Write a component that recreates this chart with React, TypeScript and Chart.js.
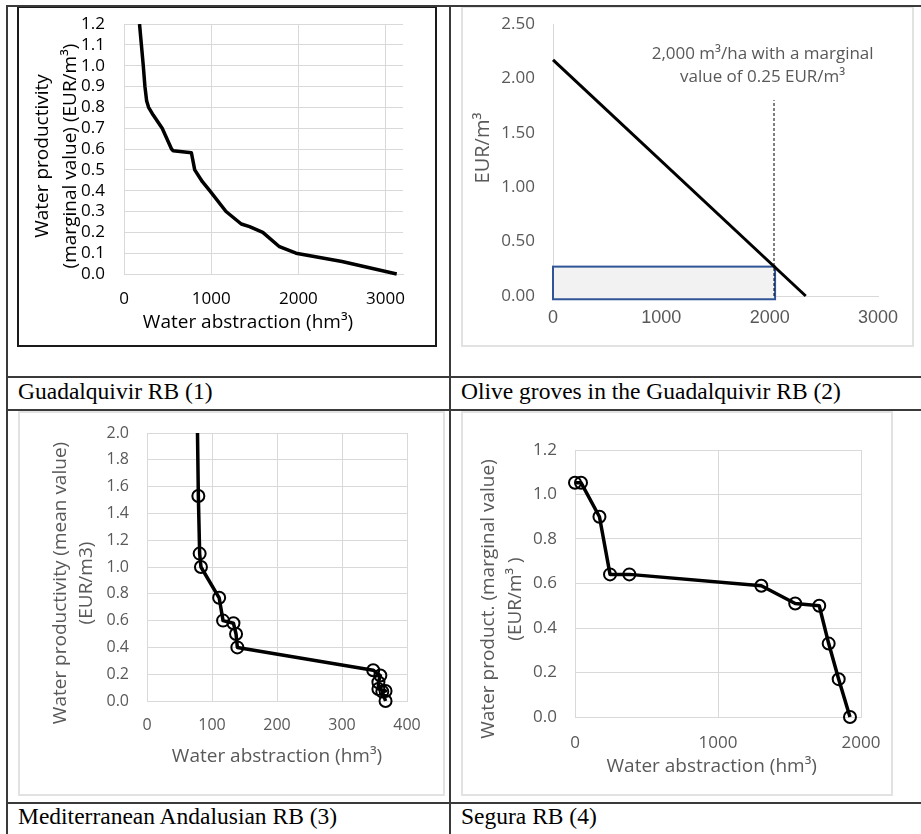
import React, { useEffect, useRef } from "react";
import { Chart, registerables } from "chart.js";
Chart.register(...registerables);

const FONT = '"Open Sans", "Noto Sans", sans-serif';
const ARIAL = '"Liberation Sans", Arial, sans-serif';
const SERIF = '"Liberation Serif", "Times New Roman", serif';
const GRAY = "#595959";
const GRID = "#d9d9d9";

// ---------- Panel 1: Guadalquivir RB ----------
const c1X = [178, 221, 240, 260, 282, 335, 438, 545, 564, 773, 811, 899, 983, 1170, 1345, 1440, 1592, 1783, 1973, 2500, 3128];
const c1Y = [1.2, 1.0, 0.9, 0.83, 0.8, 0.763, 0.7, 0.6, 0.592, 0.582, 0.5, 0.443, 0.4, 0.3, 0.24, 0.227, 0.2, 0.131, 0.1, 0.06, 0];
const c1XTicks = [0, 1000, 2000, 3000];
const c1YTicks = [0, 0.1, 0.2, 0.3, 0.4, 0.5, 0.6, 0.7, 0.8, 0.9, 1.0, 1.1, 1.2];
const c1YTitle = ["Water productivity", "(marginal value) (EUR/m³)"];
const c1XTitle = ["Water abstraction (hm³)"];

// ---------- Panel 2: Olive groves ----------
const c2X = [0, 2333];
const c2Y = [2.17, 0];
const c2XTicks = [0, 1000, 2000, 3000];
const c2YTicks = [0, 0.5, 1.0, 1.5, 2.0, 2.5];
const c2RectX = [0, 2050];
const c2RectY = [-0.03, 0.27];
const c2DashX = [2040, 2040];
const c2DashY = [0, 1.8];
const c2NoteLines = ["2,000 m³/ha with a marginal", "value of 0.25 EUR/m³"];
const c2NoteX = [1935, 1935];
const c2NoteY = [2.225, 2.015];
const c2YTitle = ["EUR/m³"];

// ---------- Panel 3: Mediterranean Andalusian RB ----------
const c3X = [76, 79, 81, 83, 111, 117, 133, 137, 139, 348, 359, 356, 356, 367, 362, 367];
const c3Y = [2.6, 1.53, 1.1, 1.0, 0.77, 0.6, 0.58, 0.5, 0.4, 0.23, 0.19, 0.14, 0.09, 0.075, 0.07, 0.0];
const c3XTicks = [0, 100, 200, 300, 400];
const c3YTicks = [0, 0.2, 0.4, 0.6, 0.8, 1.0, 1.2, 1.4, 1.6, 1.8, 2.0];
const c3YTitle = ["Water productivity (mean value)", "(EUR/m3)"];
const c3XTitle = ["Water abstraction (hm³)"];

// ---------- Panel 4: Segura RB ----------
const c4X = [0, 42, 171, 245, 380, 1303, 1540, 1708, 1774, 1844, 1923];
const c4Y = [1.053, 1.053, 0.9, 0.641, 0.641, 0.59, 0.51, 0.5, 0.33, 0.17, 0.0];
const c4XTicks = [0, 1000, 2000];
const c4YTicks = [0, 0.2, 0.4, 0.6, 0.8, 1.0, 1.2];
const c4YTitle = ["Water product. (marginal value)", "(EUR/m³ )"];
const c4XTitle = ["Water abstraction (hm³)"];

const captions = [
  "Guadalquivir RB (1)",
  "Olive groves in the Guadalquivir RB (2)",
  "Mediterranean Andalusian RB (3)",
  "Segura RB (4)",
];

const pts = (xs: number[], ys: number[]) => xs.map((x, i) => ({ x, y: ys[i] }));

type TitleSpec = { lines: string[]; x: number; y: number; lh: number; size: number; color: string; rotate: boolean };

function titlesPlugin(specs: TitleSpec[]) {
  return {
    id: "axisTitles",
    afterDraw(chart: any) {
      const ctx = chart.ctx;
      specs.forEach((s) => {
        ctx.save();
        ctx.font = `${s.size}px ${FONT}`;
        ctx.fillStyle = s.color;
        ctx.textAlign = "center";
        ctx.textBaseline = "middle";
        ctx.translate(s.x, s.y);
        if (s.rotate) ctx.rotate(-Math.PI / 2);
        s.lines.forEach((line, i) => ctx.fillText(line, 0, i * s.lh));
        ctx.restore();
      });
    },
  };
}

type AxisOpts = {
  min: number; max: number; ticks: number[]; dec: number; size: number; color: string;
  pad: number; fit: number; horizontal: boolean; grid: string; family?: string;
};

function axis(o: AxisOpts) {
  return {
    type: "linear",
    min: o.min,
    max: o.max,
    afterBuildTicks: (s: any) => {
      s.ticks = o.ticks.map((v) => ({ value: v }));
    },
    afterFit: (s: any) => {
      if (o.horizontal) s.height = o.fit;
      else s.width = o.fit;
      s.paddingTop = 0;
      s.paddingBottom = 0;
      s.paddingLeft = 0;
      s.paddingRight = 0;
    },
    ticks: {
      font: { family: o.family || FONT, size: o.size },
      color: o.color,
      padding: o.pad,
      autoSkip: false,
      maxRotation: 0,
      callback: (v: any) => Number(v).toFixed(o.dec),
    },
    grid: { color: o.grid, lineWidth: 1, drawTicks: false },
    border: { display: true, color: GRID, width: 1 },
  };
}

function common(padTop: number, padRight: number, x: any, y: any) {
  return {
    animation: false,
    responsive: false,
    events: [],
    layout: { padding: { top: padTop, right: padRight, left: 0, bottom: 0 } },
    plugins: { legend: { display: false }, tooltip: { enabled: false } },
    scales: { x, y },
  };
}

const CLIP = { left: 10, top: 0, right: 10, bottom: 10 };

function cfg1(): any {
  return {
    type: "scatter",
    data: {
      datasets: [
        {
          data: pts(c1X, c1Y), showLine: true, borderColor: "#000", borderWidth: 3.5,
          pointRadius: 0, borderJoinStyle: "round", clip: CLIP,
        },
      ],
    },
    options: common(
      16, 32,
      axis({ min: 0, max: 3200, ticks: c1XTicks, dec: 0, size: 17, color: "#000", pad: 15, fit: 71, horizontal: true, grid: GRID }),
      axis({ min: 0, max: 1.2, ticks: c1YTicks, dec: 1, size: 17, color: "#000", pad: 19, fit: 105, horizontal: false, grid: GRID })
    ),
    plugins: [
      titlesPlugin([
        { lines: c1YTitle, x: 24, y: 148, lh: 27.5, size: 19, color: "#000", rotate: true },
        { lines: c1XTitle, x: 229, y: 315, lh: 23, size: 19, color: "#000", rotate: false },
      ]),
    ],
  };
}

function cfg2(): any {
  const rectPlugin = {
    id: "rectNote",
    beforeDatasetsDraw(chart: any) {
      const { ctx, scales } = chart;
      const x0 = scales.x.getPixelForValue(c2RectX[0]);
      const x1 = scales.x.getPixelForValue(c2RectX[1]);
      const yb = scales.y.getPixelForValue(c2RectY[0]);
      const yt = scales.y.getPixelForValue(c2RectY[1]);
      ctx.save();
      ctx.fillStyle = "#f2f2f2";
      ctx.fillRect(x0, yt, x1 - x0, yb - yt);
      ctx.strokeStyle = "#2f5597";
      ctx.lineWidth = 2;
      ctx.strokeRect(x0, yt, x1 - x0, yb - yt);
      ctx.restore();
    },
    afterDatasetsDraw(chart: any) {
      const { ctx, scales } = chart;
      ctx.save();
      ctx.font = `17px ${FONT}`;
      ctx.fillStyle = GRAY;
      ctx.textAlign = "center";
      ctx.textBaseline = "middle";
      c2NoteLines.forEach((t, i) => {
        ctx.fillText(t, scales.x.getPixelForValue(c2NoteX[i]), scales.y.getPixelForValue(c2NoteY[i]));
      });
      ctx.restore();
    },
  };
  const yAx: any = axis({ min: 0, max: 2.5, ticks: c2YTicks, dec: 2, size: 17, color: GRAY, pad: 18, fit: 90, horizontal: false, grid: "rgba(0,0,0,0)" });
  const xAx: any = axis({ min: 0, max: 3000, ticks: c2XTicks, dec: 0, size: 18, color: GRAY, pad: 11, fit: 49, horizontal: true, grid: "rgba(0,0,0,0)", family: ARIAL });
  return {
    type: "scatter",
    data: {
      datasets: [
        {
          data: pts(c2DashX, c2DashY), showLine: true, borderColor: "#000", borderWidth: 1,
          borderDash: [3, 2], pointRadius: 0, clip: CLIP,
        },
        {
          data: pts(c2X, c2Y), showLine: true, borderColor: "#000", borderWidth: 3,
          pointRadius: 0, clip: CLIP,
        },
      ],
    },
    options: common(16, 34, xAx, yAx),
    plugins: [
      rectPlugin,
      titlesPlugin([{ lines: c2YTitle, x: 20, y: 140, lh: 24, size: 20, color: GRAY, rotate: true }]),
    ],
  };
}

function markerSet(xs: number[], ys: number[]) {
  return {
    data: pts(xs, ys), showLine: true, borderColor: "#000", borderWidth: 3.5, borderJoinStyle: "round",
    pointRadius: 6, pointBorderWidth: 2, pointBorderColor: "#000", pointBackgroundColor: "rgba(0,0,0,0)",
    clip: CLIP,
  };
}

function cfg3(): any {
  return {
    type: "scatter",
    data: { datasets: [markerSet(c3X, c3Y)] },
    options: common(
      20, 36,
      axis({ min: 0, max: 400, ticks: c3XTicks, dec: 0, size: 16, color: GRAY, pad: 15, fit: 93, horizontal: true, grid: GRID }),
      axis({ min: 0, max: 2.0, ticks: c3YTicks, dec: 1, size: 16, color: GRAY, pad: 18, fit: 127, horizontal: false, grid: GRID })
    ),
    plugins: [
      titlesPlugin([
        { lines: c3YTitle, x: 40.7, y: 170, lh: 26, size: 19, color: GRAY, rotate: true },
        { lines: c3XTitle, x: 257, y: 344, lh: 23, size: 19, color: GRAY, rotate: false },
      ]),
    ],
  };
}

function cfg4(): any {
  return {
    type: "scatter",
    data: { datasets: [markerSet(c4X, c4Y)] },
    options: common(
      37, 30,
      axis({ min: 0, max: 2000, ticks: c4XTicks, dec: 0, size: 17, color: GRAY, pad: 15.5, fit: 77, horizontal: true, grid: GRID }),
      axis({ min: 0, max: 1.2, ticks: c4YTicks, dec: 1, size: 17, color: GRAY, pad: 18, fit: 112, horizontal: false, grid: GRID })
    ),
    plugins: [
      titlesPlugin([
        { lines: c4YTitle, x: 25.3, y: 186, lh: 27, size: 19, color: GRAY, rotate: true },
        { lines: c4XTitle, x: 248.7, y: 353.7, lh: 23, size: 19, color: GRAY, rotate: false },
      ]),
    ],
  };
}

const abs = (l: number, t: number, w: number, h: number, extra: any = {}) => ({
  position: "absolute" as const, left: l, top: t, width: w, height: h, boxSizing: "border-box" as const, ...extra,
});

const LINE = "#3a3a3a";

export default function App() {
  const r1 = useRef<HTMLCanvasElement>(null);
  const r2 = useRef<HTMLCanvasElement>(null);
  const r3 = useRef<HTMLCanvasElement>(null);
  const r4 = useRef<HTMLCanvasElement>(null);

  useEffect(() => {
    const charts = [
      new Chart(r1.current as HTMLCanvasElement, cfg1()),
      new Chart(r2.current as HTMLCanvasElement, cfg2()),
      new Chart(r3.current as HTMLCanvasElement, cfg3()),
      new Chart(r4.current as HTMLCanvasElement, cfg4()),
    ];
    return () => charts.forEach((c) => c.destroy());
  }, []);

  const capStyle = (l: number, t: number) =>
    abs(l, t, 440, 24, { fontFamily: SERIF, fontSize: "23.5px", lineHeight: "23.5px", color: "#000", whiteSpace: "nowrap" });

  return (
    <div style={{ position: "absolute", left: 0, top: 0, width: 921, height: 834, background: "#fff", overflow: "hidden" }}>
      {/* chart frames */}
      <div style={abs(17, 6, 420, 341, { border: "2px solid #1a1a1a" })} />
      <div style={abs(461, 6, 453, 341, { border: "2px solid #e2e2e2" })} />
      <div style={abs(18, 411, 427, 385, { border: "2px solid #e2e2e2" })} />
      <div style={abs(461, 411, 432, 385, { border: "2px solid #e2e2e2" })} />

      <canvas ref={r1} width={416} height={337} style={abs(19, 8, 416, 337, { display: "block" })} />
      <canvas ref={r2} width={449} height={337} style={abs(463, 8, 449, 337, { display: "block" })} />
      <canvas ref={r3} width={423} height={381} style={abs(20, 413, 423, 381, { display: "block" })} />
      <canvas ref={r4} width={428} height={381} style={abs(463, 413, 428, 381, { display: "block" })} />

      {/* table lines */}
      <div style={abs(6, 5, 915, 2, { background: LINE })} />
      <div style={abs(6, 376, 915, 2, { background: LINE })} />
      <div style={abs(6, 409, 915, 2, { background: LINE })} />
      <div style={abs(6, 802, 915, 2, { background: LINE })} />
      <div style={abs(6, 5, 2, 829, { background: LINE })} />
      <div style={abs(449, 5, 2, 829, { background: LINE })} />

      {/* captions */}
      <div style={capStyle(18, 380.3)}>{captions[0]}</div>
      <div style={capStyle(461, 380.3)}>{captions[1]}</div>
      <div style={capStyle(18, 805.3)}>{captions[2]}</div>
      <div style={capStyle(461, 805.3)}>{captions[3]}</div>
    </div>
  );
}
